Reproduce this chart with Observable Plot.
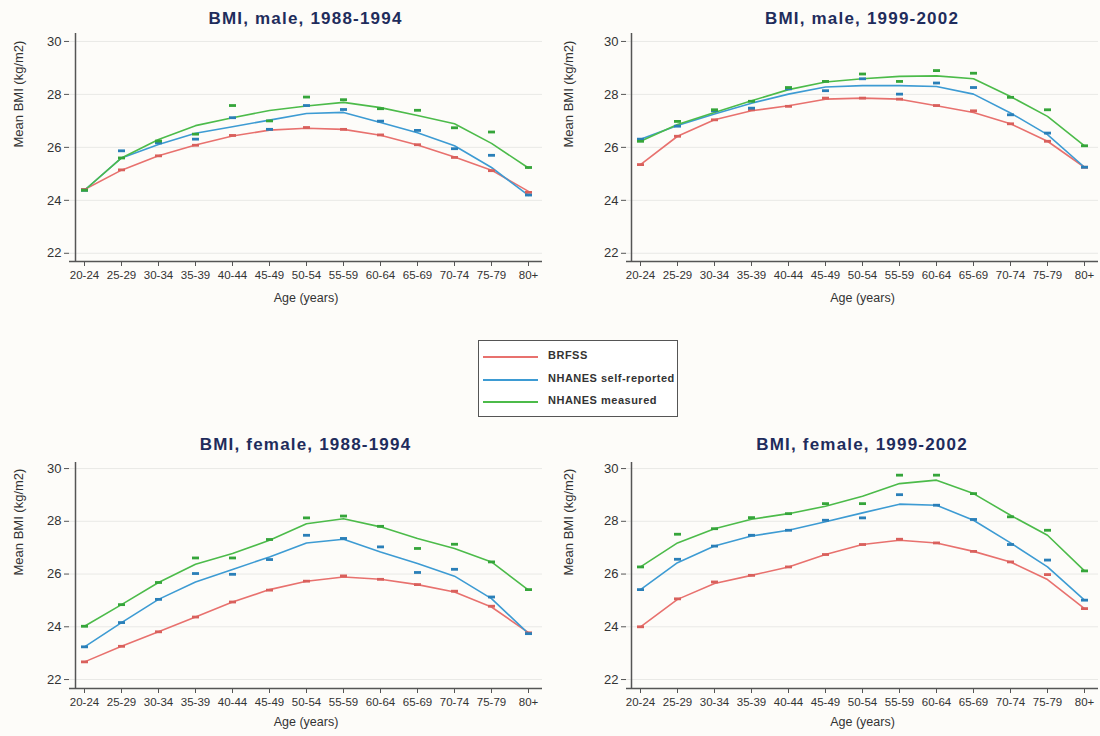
<!DOCTYPE html>
<html><head><meta charset="utf-8">
<script src="https://cdn.jsdelivr.net/npm/d3@7"></script>
<script src="https://cdn.jsdelivr.net/npm/@observablehq/plot@0.6"></script>
<style>
body{margin:0;background:#fdfcf9;font-family:Arial,"Liberation Sans",sans-serif;}
#root{position:relative;width:1100px;height:736px;overflow:hidden;background:#fdfcf9;}
.title{position:absolute;width:400px;font-weight:bold;font-size:17px;color:#1f2c5c;text-align:center;letter-spacing:1.2px;line-height:20px;}
.panel{position:absolute;}
.legend{position:absolute;left:478px;top:340px;width:200px;height:77px;border:1.5px solid #555;background:#fff;box-sizing:border-box;}
.legend .sw{position:absolute;left:4px;width:55px;height:0;border-top:2px solid;}
.legend .lb{position:absolute;left:69px;white-space:nowrap;font-size:11px;font-weight:bold;color:#333;letter-spacing:0.5px;}
</style></head><body><div id="root"></div>
<script>
const ages = ["20-24","25-29","30-34","35-39","40-44","45-49","50-54","55-59","60-64","65-69","70-74","75-79","80+"];
const seriesNames = ["BRFSS","NHANES self-reported","NHANES measured"];
const seriesColors = ["#e8716e","#3d9bd3","#4cbb4a"];
const markColors = ["#d9605c","#2a7fb8","#35a53a"];
const yTicks = [22,24,26,28,30];

// Male 1988-1994
const m88_brfssFit = [24.41,25.14,25.68,26.09,26.43,26.65,26.72,26.68,26.46,26.09,25.64,25.14,24.34];
const m88_brfssObs = [24.41,25.15,25.68,26.08,26.45,26.68,26.75,26.68,26.47,26.10,25.62,25.12,24.30];
const m88_selfFit  = [24.38,25.60,26.11,26.53,26.78,27.03,27.28,27.32,26.94,26.55,26.06,25.24,24.19];
const m88_selfObs  = [24.38,25.87,26.17,26.31,27.12,26.68,27.58,27.43,26.99,26.64,25.95,25.70,24.20];
const m88_measFit  = [24.38,25.60,26.30,26.82,27.12,27.39,27.56,27.70,27.50,27.20,26.89,26.15,25.22];
const m88_measObs  = [24.38,25.60,26.24,26.50,27.58,27.00,27.90,27.80,27.46,27.40,26.74,26.58,25.24];

// Male 1999-2002
const m99_brfssFit = [25.35,26.42,27.04,27.38,27.57,27.82,27.86,27.82,27.57,27.32,26.89,26.23,25.25];
const m99_brfssObs = [25.35,26.42,27.04,27.42,27.55,27.86,27.86,27.82,27.58,27.38,26.89,26.23,25.25];
const m99_selfFit  = [26.31,26.83,27.26,27.67,28.01,28.28,28.33,28.33,28.30,28.01,27.30,26.48,25.25];
const m99_selfObs  = [26.31,26.80,27.38,27.48,28.21,28.14,28.59,28.01,28.43,28.26,27.23,26.54,25.25];
const m99_measFit  = [26.23,26.86,27.32,27.76,28.18,28.47,28.59,28.68,28.70,28.59,27.92,27.17,26.06];
const m99_measObs  = [26.23,26.98,27.42,27.74,28.26,28.49,28.77,28.49,28.90,28.80,27.89,27.42,26.06];

// Female 1988-1994
const f88_brfssFit = [22.67,23.26,23.81,24.37,24.94,25.41,25.73,25.89,25.80,25.60,25.32,24.75,23.78];
const f88_brfssObs = [22.67,23.26,23.81,24.37,24.94,25.39,25.73,25.93,25.80,25.60,25.35,24.78,23.77];
const f88_selfFit  = [23.24,24.16,25.04,25.70,26.17,26.65,27.18,27.32,26.84,26.40,25.92,25.07,23.74];
const f88_selfObs  = [23.24,24.16,25.04,26.02,25.99,26.55,27.47,27.35,27.03,26.06,26.18,25.13,23.74];
const f88_measFit  = [24.02,24.84,25.68,26.37,26.78,27.28,27.91,28.10,27.79,27.35,26.97,26.46,25.39];
const f88_measObs  = [24.02,24.84,25.68,26.61,26.61,27.31,28.13,28.20,27.81,26.97,27.13,26.46,25.41];

// Female 1999-2002
const f99_brfssFit = [24.00,25.04,25.64,25.95,26.27,26.74,27.12,27.28,27.18,26.86,26.46,25.79,24.69];
const f99_brfssObs = [24.00,25.06,25.70,25.95,26.27,26.74,27.12,27.32,27.18,26.86,26.46,25.98,24.69];
const f99_selfFit  = [25.41,26.43,27.06,27.44,27.66,27.98,28.32,28.65,28.61,28.04,27.18,26.27,25.01];
const f99_selfObs  = [25.41,26.56,27.06,27.47,27.66,28.04,28.13,29.01,28.61,28.07,27.12,26.53,25.01];
const f99_measFit  = [26.27,27.18,27.72,28.08,28.29,28.57,28.95,29.43,29.56,29.05,28.23,27.47,26.12];
const f99_measObs  = [26.27,27.51,27.72,28.14,28.29,28.67,28.67,29.75,29.75,29.05,28.17,27.66,26.12];

const panels = [
  {title:"BMI, male, 1988-1994", fits:[m88_brfssFit,m88_selfFit,m88_measFit], obs:[m88_brfssObs,m88_selfObs,m88_measObs], left:0, top:28, axisX:69, x0:78, x1:533, right:542, row:0},
  {title:"BMI, male, 1999-2002", fits:[m99_brfssFit,m99_selfFit,m99_measFit], obs:[m99_brfssObs,m99_selfObs,m99_measObs], left:550, top:28, axisX:76, x0:85, x1:539, right:548, row:0},
  {title:"BMI, female, 1988-1994", fits:[f88_brfssFit,f88_selfFit,f88_measFit], obs:[f88_brfssObs,f88_selfObs,f88_measObs], left:0, top:455, axisX:69, x0:78, x1:533, right:542, row:1},
  {title:"BMI, female, 1999-2002", fits:[f99_brfssFit,f99_selfFit,f99_measFit], obs:[f99_brfssObs,f99_selfObs,f99_measObs], left:550, top:455, axisX:76, x0:85, x1:539, right:548, row:1}
];
const rows = [
  {marginTop:5, frameH:228, marginBottom:80, ydom:[21.69,30.3], titleY:9, xlabDy:40},
  {marginTop:7, frameH:226, marginBottom:48, ydom:[21.66,30.23], titleY:435, xlabDy:37}
];

// small horizontal dash used for the observed means
const dash = {draw(ctx) { ctx.moveTo(-3.5,-1.4); ctx.lineTo(3.5,-1.4); ctx.lineTo(3.5,1.4); ctx.lineTo(-3.5,1.4); ctx.closePath(); }};

const root = document.getElementById("root");
for (const p of panels) {
  const r = rows[p.row];
  const W = 550;
  const fitData = [], obsData = [];
  seriesNames.forEach((s, i) => {
    ages.forEach((a, j) => {
      fitData.push({age:a, bmi:p.fits[i][j], series:s});
      obsData.push({age:a, bmi:p.obs[i][j], series:s, mc:markColors[i]});
    });
  });
  const chart = Plot.plot({
    width: W,
    height: r.marginTop + r.frameH + r.marginBottom,
    marginLeft: p.axisX, marginRight: W - p.right, marginTop: r.marginTop, marginBottom: r.marginBottom,
    style: {background:"transparent", fontFamily:"Arial, 'Liberation Sans', sans-serif", color:"#333", overflow:"visible"},
    x: {type:"point", domain: ages, range:[p.x0, p.x1], padding:0},
    y: {domain: r.ydom},
    color: {domain: seriesNames, range: seriesColors},
    marks: [
      Plot.ruleY(yTicks, {stroke:"#e9e9e6", strokeWidth:1}),
      Plot.axisY(yTicks, {tickSize:5, tickPadding:3, label:null, fontSize:13, stroke:"#555", fill:"#333", tickFormat:d=>String(d)}),
      Plot.axisX({tickSize:5, tickPadding:4, label:null, fontSize:11.5, stroke:"#555", fill:"#333"}),
      Plot.ruleX([ages[0]], {dx: p.axisX - p.x0, stroke:"#555", strokeWidth:1.5}),
      Plot.ruleY([r.ydom[0]], {stroke:"#555", strokeWidth:1.5}),
      Plot.line(fitData, {x:"age", y:"bmi", z:"series", stroke:"series", strokeWidth:1.6}),
      Plot.dot(obsData, {x:"age", y:"bmi", symbol:dash, fill:"mc", stroke:null}),
      Plot.text(["Mean BMI (kg/m2)"], {frameAnchor:"left", rotate:-90, dx:18 - p.axisX, fontSize:13, fill:"#333", style:"letter-spacing:0.8px"}),
      Plot.text(["Age (years)"], {frameAnchor:"bottom", dy:r.xlabDy, fontSize:12.5, fill:"#333"})
    ]
  });
  chart.classList.add("panel");
  chart.style.left = p.left + "px";
  chart.style.top = p.top + "px";
  root.appendChild(chart);
  const t = document.createElement("div");
  t.className = "title";
  t.textContent = p.title;
  t.style.left = (p.left + (p.axisX + p.right)/2 - 200) + "px";
  t.style.top = r.titleY + "px";
  root.appendChild(t);
}

// legend
const lg = document.createElement("div");
lg.className = "legend";
seriesNames.forEach((s, i) => {
  const y = 8 + i * 22.5;
  const sw = document.createElement("div");
  sw.className = "sw";
  sw.style.top = (y + 7) + "px";
  sw.style.borderTopColor = seriesColors[i];
  lg.appendChild(sw);
  const lb = document.createElement("div");
  lb.className = "lb";
  lb.style.top = y + "px";
  lb.textContent = s;
  lg.appendChild(lb);
});
root.appendChild(lg);
</script>
</body></html>
